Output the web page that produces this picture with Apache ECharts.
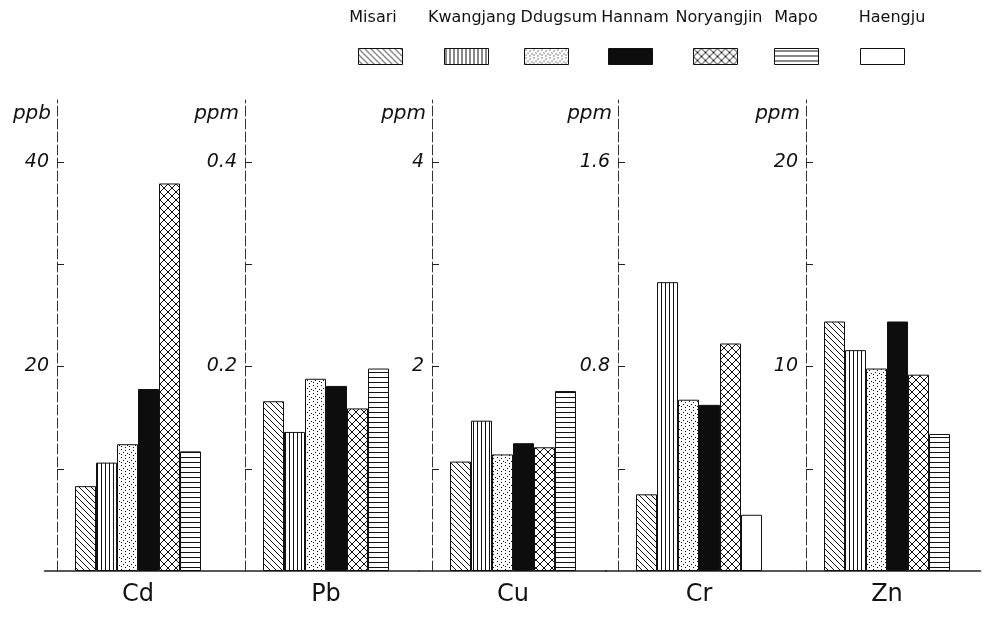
<!DOCTYPE html>
<html>
<head>
<meta charset="utf-8">
<script src="https://cdn.jsdelivr.net/npm/echarts@6/dist/echarts.min.js"></script>
<style>
  html, body { margin: 0; padding: 0; background: #fff; }
  #chart { width: 990px; height: 617px; }
</style>
</head>
<body>
<div id="chart"></div>
<script>
// sampling sites (legend order) and metals (one panel each)
const sites = ['Misari', 'Kwangjang', 'Ddugsum', 'Hannam', 'Noryangjin', 'Mapo', 'Haengju']
const metals = ['Cd', 'Pb', 'Cu', 'Cr', 'Zn']
const units = ['ppb', 'ppm', 'ppm', 'ppm', 'ppm']
const labelTops = [40, 0.4, 4, 1.6, 20] // top labelled tick of each panel

// values per site, in metals order (null = no bar)
const misari = [8.3, 0.166, 1.07, 0.30, 12.2]
const kwangjang = [10.6, 0.136, 1.47, 1.13, 10.8]
const ddugsum = [12.4, 0.188, 1.14, 0.67, 9.9]
const hannam = [17.8, 0.181, 1.25, 0.65, 12.2]
const noryangjin = [37.9, 0.159, 1.21, 0.89, 9.6]
const mapo = [11.7, 0.198, 1.76, null, 6.7]
const haengju = [null, null, null, 0.22, null]
const siteValues = [misari, kwangjang, ddugsum, hannam, noryangjin, mapo, haengju]

const axisX = [57, 245, 432, 618, 806]
const gridTop = 100
const gridHeight = 471
const labelSpan = 409 // px from baseline to top label

function pattern(size, draw) {
  const c = document.createElement('canvas')
  c.width = size
  c.height = size
  const ctx = c.getContext('2d')
  ctx.fillStyle = '#fff'
  ctx.fillRect(0, 0, size, size)
  ctx.strokeStyle = '#111'
  ctx.fillStyle = '#111'
  ctx.lineWidth = 1
  draw(ctx, size)
  return { image: c, repeat: 'repeat' }
}

const fills = [
  // Misari: back-diagonal hatch
  pattern(6, (ctx, s) => {
    ctx.beginPath()
    for (let k = -s; k <= s; k += s) {
      ctx.moveTo(k, 0)
      ctx.lineTo(k + s, s)
    }
    ctx.stroke()
  }),
  // Kwangjang: vertical lines
  pattern(4, (ctx, s) => {
    ctx.beginPath()
    ctx.moveTo(1.5, 0)
    ctx.lineTo(1.5, s)
    ctx.stroke()
  }),
  // Ddugsum: stipple
  pattern(8, (ctx) => {
    ;[[1, 1], [5, 2], [3, 4], [7, 5], [1, 6], [5, 7]].forEach(p => ctx.fillRect(p[0], p[1], 1, 1))
  }),
  // Hannam: solid black
  '#0d0d0d',
  // Noryangjin: cross hatch
  pattern(8, (ctx, s) => {
    ctx.beginPath()
    for (let k = -s; k <= s; k += s) {
      ctx.moveTo(k, 0)
      ctx.lineTo(k + s, s)
      ctx.moveTo(k + s, 0)
      ctx.lineTo(k, s)
    }
    ctx.stroke()
  }),
  // Mapo: horizontal lines
  pattern(5, (ctx, s) => {
    ctx.beginPath()
    ctx.moveTo(0, 2.5)
    ctx.lineTo(s, 2.5)
    ctx.stroke()
  }),
  // Haengju: empty
  '#fff'
]

const font = 'DejaVu Sans, Noto Sans, sans-serif'
const legendIconX = [358, 444, 524, 608, 693, 774, 860]
const legendTextX = [373, 472, 559, 635, 719, 796, 892]

const chart = echarts.init(document.getElementById('chart'))

const series = []
sites.forEach((site, k) => {
  metals.forEach((m, i) => {
    const v = siteValues[k][i]
    series.push({
      type: 'bar',
      name: site,
      xAxisIndex: i,
      yAxisIndex: i,
      data: [v == null ? '-' : v],
      // Mapo and Haengju never share a panel, drawn in the same slot
      stack: k >= 5 ? 'last' + i : null,
      barWidth: 21,
      barGap: '0%',
      itemStyle: { color: fills[k], borderColor: '#111', borderWidth: 1 },
      emphasis: { disabled: true },
      animation: false
    })
  })
})

chart.setOption({
  backgroundColor: '#fff',
  textStyle: { fontFamily: font },
  legend: sites.map((site, k) => ({
    data: [site],
    left: legendIconX[k],
    top: 48,
    padding: 0,
    icon: 'rect',
    itemWidth: 44,
    itemHeight: 16,
    selectedMode: false,
    formatter: () => '',
    itemStyle: { borderColor: '#111', borderWidth: 1 }
  })),
  graphic: sites.map((site, k) => ({
    type: 'text',
    x: legendTextX[k],
    y: 10,
    style: {
      text: site,
      align: 'center',
      verticalAlign: 'top',
      font: '16px ' + font,
      fill: '#111'
    }
  })),
  grid: metals.map((m, i) => ({
    left: axisX[i] - 12.5,
    width: 187,
    top: gridTop,
    height: gridHeight,
    outerBoundsMode: 'none'
  })),
  xAxis: metals.map((m, i) => ({
    type: 'category',
    gridIndex: i,
    data: [m],
    axisTick: { show: false },
    axisLine: { lineStyle: { color: '#222', width: 1.5 } },
    axisLabel: { fontSize: 24, margin: 12, color: '#111' }
  })),
  yAxis: metals.map((m, i) => {
    const t = labelTops[i]
    return {
      type: 'value',
      gridIndex: i,
      min: 0,
      max: (t * gridHeight) / labelSpan,
      offset: -12.5,
      name: units[i],
      nameLocation: 'end',
      nameGap: -4,
      nameTextStyle: {
        align: 'right',
        verticalAlign: 'top',
        padding: [0, 6, 0, 0],
        fontSize: 20,
        fontStyle: 'italic',
        color: '#111'
      },
      axisLine: { show: true, lineStyle: { color: '#333', width: 1, type: [10, 3] } },
      axisTick: {
        show: true,
        inside: true,
        length: 7,
        customValues: [t / 4, t / 2, (t * 3) / 4, t],
        lineStyle: { color: '#222' }
      },
      axisLabel: {
        customValues: [t / 2, t],
        margin: 8,
        fontSize: 19,
        fontStyle: 'italic',
        color: '#111',
        formatter: v => String(+v.toFixed(2))
      },
      splitLine: { show: false }
    }
  }),
  series: series
})
</script>
</body>
</html>
